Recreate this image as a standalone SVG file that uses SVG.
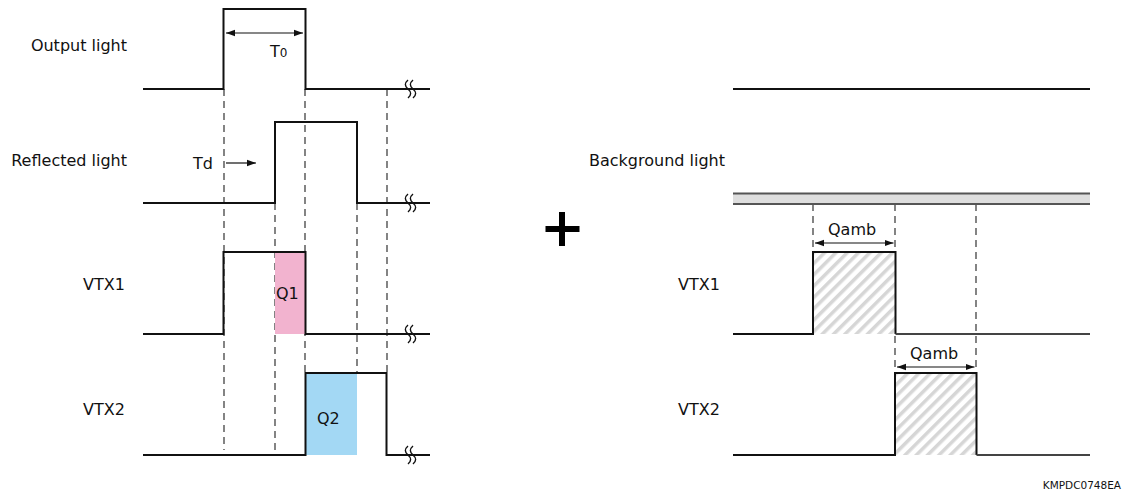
<svg xmlns="http://www.w3.org/2000/svg" width="1135" height="492" viewBox="0 0 1135 492">
<style>
.lbl{font-family:"DejaVu Sans","Liberation Sans",sans-serif;font-size:16px;fill:#111}
.sm{font-family:"DejaVu Sans","Liberation Sans",sans-serif;font-size:10.5px;fill:#111}
.wave{fill:none;stroke:#111;stroke-width:2;stroke-linejoin:miter}
.base{fill:none;stroke:#444;stroke-width:2}
.dash{fill:none;stroke:#333;stroke-width:1.2;stroke-dasharray:7 5}
.brk{fill:none;stroke:#111;stroke-width:1.4}
.arr{fill:none;stroke:#111;stroke-width:1.2}
</style>
<defs>
<marker id="ah" viewBox="0 0 10 10" refX="10" refY="5" markerWidth="9" markerHeight="9" markerUnits="userSpaceOnUse" orient="auto-start-reverse">
<path d="M0,1.5 L10,5 L0,8.5 Z" fill="#111"/>
</marker>
<pattern id="hatch" patternUnits="userSpaceOnUse" width="8" height="8" patternTransform="rotate(45)">
<rect x="0" y="0" width="8" height="8" fill="#fff"/>
<rect x="0" y="0" width="3.5" height="8" fill="#d6d6d6"/>
</pattern>
<g id="brkmark">
<path class="brk" d="M0,-9 C-3.5,-6 -3.5,-3 0,0 C3.5,3 3.5,6 0,9"/>
<path class="brk" d="M5,-9 C1.5,-6 1.5,-3 5,0 C8.5,3 8.5,6 5,9"/>
</g>
</defs>
<rect width="1135" height="492" fill="#fff"/>

<g id="connectors">
<path class="dash" d="M224,89 V450"/>
<path class="dash" d="M275,203 V450"/>
<path class="dash" d="M305,89 V373"/>
<path class="dash" d="M357,203 V373"/>
<path class="dash" d="M387,89 V373"/>
<path class="dash" d="M813,204 V252"/>
<path class="dash" d="M895,204 V373"/>
<path class="dash" d="M976,204 V373"/>
</g>

<g id="output-light">
<text class="lbl" x="127" y="51" text-anchor="end">Output light</text>
<path class="wave" d="M143,89 H223.5 V9 H305.5 V89 H430"/>
<use href="#brkmark" x="408" y="89"/>
<path class="arr" d="M226,33 H303" marker-start="url(#ah)" marker-end="url(#ah)"/>
<text class="lbl" x="270" y="57">T<tspan font-size="12px">0</tspan></text>
</g>

<g id="reflected-light">
<text class="lbl" x="127" y="166" text-anchor="end">Reflected light</text>
<path class="wave" d="M143,203 H275 V122 H357 V203 H430"/>
<use href="#brkmark" x="408" y="203"/>
<text class="lbl" x="193" y="169">Td</text>
<path class="arr" d="M226,163 H256" marker-end="url(#ah)"/>
</g>

<g id="vtx1-left">
<text class="lbl" x="83" y="290">VTX1</text>
<rect x="275" y="252" width="30" height="82" fill="#f2b3cf"/>
<path class="wave" d="M143,334 H223.5 V252 H305.5 V334 H430"/>
<use href="#brkmark" x="408" y="334"/>
<text class="lbl" x="276" y="299">Q1</text>
</g>

<g id="vtx2-left">
<text class="lbl" x="83" y="415">VTX2</text>
<rect x="305" y="373" width="52" height="82" fill="#a3d8f4"/>
<path class="wave" d="M143,455 H305.5 V373 H386.5 V455 H430"/>
<use href="#brkmark" x="408" y="455"/>
<text class="lbl" x="317" y="424">Q2</text>
</g>

<g id="plus">
<rect x="559" y="212" width="6" height="34" fill="#000"/>
<rect x="545.5" y="226" width="34" height="6" fill="#000"/>
</g>

<g id="output-light-right">
<path class="wave" d="M733,89 H1090" stroke="#222"/>
</g>

<g id="background-light">
<text class="lbl" x="725" y="166" text-anchor="end">Background light</text>
<rect x="733" y="193.5" width="357" height="10.5" fill="#dedede"/>
<path d="M733,193.5 H1090 M733,204 H1090" stroke="#555" stroke-width="2" fill="none"/>
</g>

<g id="vtx1-right">
<text class="lbl" x="678" y="290">VTX1</text>
<rect x="813" y="252" width="82.5" height="82" fill="url(#hatch)"/>
<path class="wave" d="M733,334 H813 V252 H895.5 V334"/>
<path class="base" d="M895.5,334 H1090"/>
<path class="arr" d="M815,243 H893.5" marker-start="url(#ah)" marker-end="url(#ah)"/>
<text class="lbl" x="828" y="235">Qamb</text>
</g>

<g id="vtx2-right">
<text class="lbl" x="678" y="415">VTX2</text>
<rect x="895" y="373" width="81.5" height="82" fill="url(#hatch)"/>
<path class="wave" d="M733,455 H895 V373 H976.5 V455"/>
<path class="base" d="M976.5,455 H1090"/>
<path class="arr" d="M897,367 H974.5" marker-start="url(#ah)" marker-end="url(#ah)"/>
<text class="lbl" x="910" y="359">Qamb</text>
</g>

<text class="sm" x="1121" y="489" text-anchor="end">KMPDC0748EA</text>
</svg>
